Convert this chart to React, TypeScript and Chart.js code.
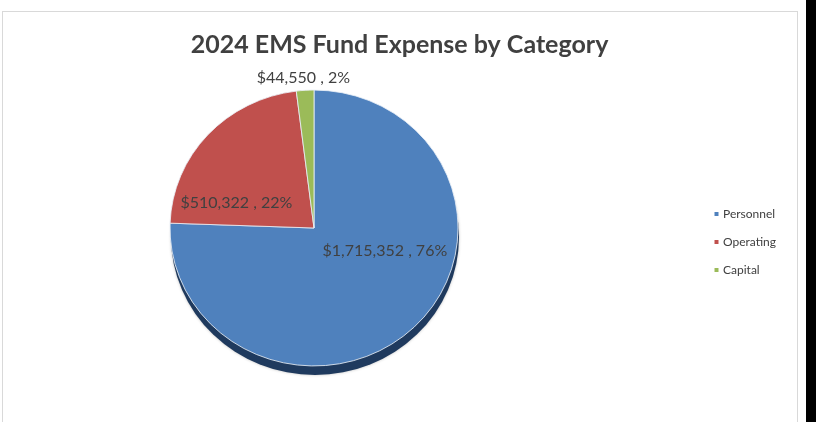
import React, { useEffect, useRef } from 'react';
import { Chart, registerables } from 'chart.js';

Chart.register(...registerables);

// ---- data ----
const categories = ['Personnel', 'Operating', 'Capital'];
const expenses = [1715352, 510322, 44550];
const sliceColors = ['#4f81bd', '#c0504d', '#9bbb59'];
const titleText = '2024 EMS Fund Expense by Category';

// ---- look & layout ----
const W = 816;
const H = 422;
const TEXT_COLOR = '#404040';
const FONT = 'Lato, "Open Sans", "DejaVu Sans", sans-serif';
const FRAME = { left: 2, right: 797, top: 11 };
const PIE_SQUASH = 0.958; // slight vertical tilt of the pie
const SHADOW = { dx: 1, dy: 9, color: '#1f3a5e' };
const LEGEND_X = 700;
const LEGEND_CY = 242;
// where each data label sits: fraction along its arc and fraction of the radius
const labelPlacement = [
  { along: 0.4, radius: 0.52 },
  { along: 0.21, radius: 0.57 },
  { along: 0.45, radius: 1.09 },
];

const total = expenses.reduce((a, b) => a + b, 0);
const fmtLabel = (v: number) =>
  '$' + v.toLocaleString('en-US') + ' , ' + Math.round((v / total) * 100) + '%';

const placeBlocks = {
  id: 'placeBlocks',
  afterLayout(chart: any) {
    const t = chart.titleBlock;
    if (t) {
      t.left = FRAME.left;
      t.right = FRAME.right;
      t.width = t.right - t.left;
    }
    const lg = chart.legend;
    if (lg) {
      const w = lg.width;
      lg.left = LEGEND_X;
      lg.right = LEGEND_X + w;
      lg.top = LEGEND_CY - 142;
      lg.bottom = LEGEND_CY + 142;
      lg.height = 284;
    }
  },
};

const pieDepth = {
  id: 'pieDepth',
  beforeDatasetsDraw(chart: any) {
    const ctx = chart.ctx;
    const arc = chart.getDatasetMeta(0).data[0];
    if (!arc) return;
    const { x, y, outerRadius } = arc.getProps(['x', 'y', 'outerRadius'], true);
    ctx.save();
    ctx.translate(x, y);
    ctx.scale(1, PIE_SQUASH);
    ctx.translate(-x, -y);
    ctx.save();
    ctx.fillStyle = SHADOW.color;
    ctx.shadowColor = 'rgba(0,0,0,0.25)';
    ctx.shadowBlur = 3;
    ctx.beginPath();
    ctx.arc(x + SHADOW.dx, y + SHADOW.dy / PIE_SQUASH, outerRadius, 0, Math.PI * 2);
    ctx.fill();
    ctx.restore();
  },
  afterDatasetsDraw(chart: any) {
    const ctx = chart.ctx;
    ctx.restore();
    const meta = chart.getDatasetMeta(0);
    ctx.save();
    ctx.fillStyle = TEXT_COLOR;
    ctx.font = `16px ${FONT}`;
    ctx.textAlign = 'center';
    ctx.textBaseline = 'middle';
    meta.data.forEach((el: any, i: number) => {
      const { x, y, startAngle, endAngle, outerRadius } = el.getProps(
        ['x', 'y', 'startAngle', 'endAngle', 'outerRadius'],
        true
      );
      const p = labelPlacement[i];
      const a = startAngle + (endAngle - startAngle) * p.along;
      const r = outerRadius * p.radius;
      const lx = x + Math.cos(a) * r;
      const ly = y + Math.sin(a) * r * PIE_SQUASH;
      ctx.fillText(fmtLabel(expenses[i]), lx, ly);
    });
    ctx.restore();
  },
};

export default function App() {
  const ref = useRef<HTMLCanvasElement | null>(null);

  useEffect(() => {
    if (!ref.current) return;
    const chart = new Chart(ref.current, {
      type: 'pie',
      data: {
        labels: categories,
        datasets: [
          {
            data: expenses,
            backgroundColor: sliceColors,
            borderColor: 'rgba(235,240,248,0.85)',
            borderWidth: 1,
          },
        ],
      },
      options: {
        responsive: false,
        animation: false,
        events: [],
        radius: 144,
        layout: { padding: { left: 164, right: 352, top: 0, bottom: 36 } },
        plugins: {
          title: {
            display: true,
            text: titleText,
            color: TEXT_COLOR,
            font: { family: FONT, size: 25, weight: 'bold' },
            padding: { top: 30, bottom: 10 },
          },
          legend: {
            position: 'chartArea',
            labels: {
              usePointStyle: true,
              pointStyle: 'rect',
              boxWidth: 1,
              boxHeight: 4,
              padding: 16,
              color: TEXT_COLOR,
              font: { family: FONT, size: 12 },
              generateLabels: (c: any) =>
                (Chart as any).overrides.doughnut.plugins.legend.labels
                  .generateLabels(c)
                  .map((l: any) => ({ ...l, lineWidth: 0, pointStyle: 'rect' })),
            },
          },
          tooltip: { enabled: false },
        },
      } as any,
      plugins: [placeBlocks, pieDepth],
    });
    return () => chart.destroy();
  }, []);

  return (
    <div
      style={{
        position: 'absolute',
        left: 0,
        top: 0,
        width: W,
        height: H,
        background: '#fff',
        overflow: 'hidden',
      }}
    >
      <div
        style={{
          position: 'absolute',
          left: FRAME.left,
          top: FRAME.top,
          width: FRAME.right - FRAME.left - 1,
          height: 440,
          border: '1px solid #d9d9d9',
        }}
      />
      <div style={{ position: 'absolute', left: 806, top: 0, width: 10, height: H, background: '#000' }} />
      <canvas ref={ref} width={W} height={H} style={{ position: 'absolute', left: 0, top: 0, width: W, height: H }} />
    </div>
  );
}
